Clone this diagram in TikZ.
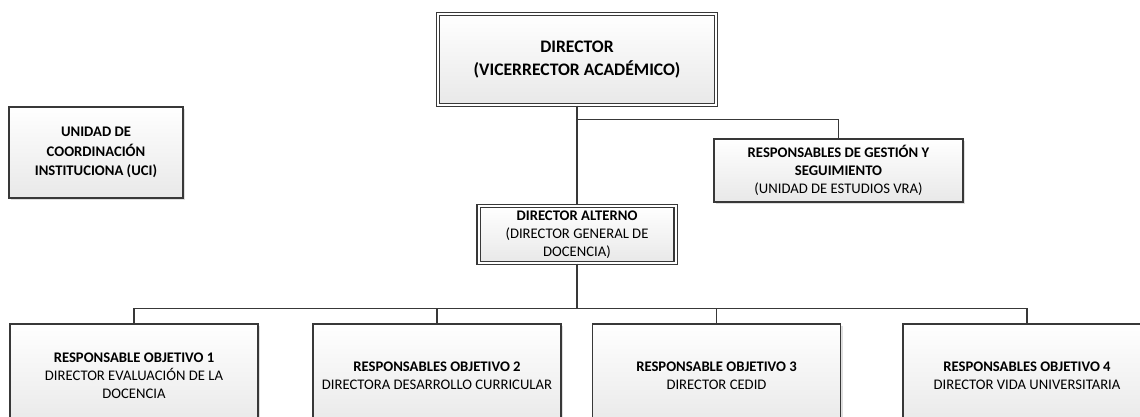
\documentclass[tikz,border=0pt]{standalone}
\usepackage{fontspec}
\setmainfont{Carlito}
\usetikzlibrary{shadows}
\begin{document}
\begin{tikzpicture}[x=0.75pt,y=-0.75pt,
  orgbox/.style={draw=black!78, line width=0.85pt, top color=white, bottom color=black!9,
    drop shadow={shadow xshift=1.5pt, shadow yshift=-1.5pt, opacity=0.25},
    align=center, inner sep=0pt, font=\fontsize{11}{13.5}\selectfont},
  dbox/.style={orgbox, double=white, double distance=1.5pt},
  link/.style={draw=black!78, line width=1pt}]
\useasboundingbox (0,0) rectangle (1140,417);

\node[dbox, minimum width=278*0.75pt, minimum height=91*0.75pt,
  font=\fontsize{13.2}{17.5}\selectfont\bfseries] (dir) at (577,59.5)
  {DIRECTOR\\(VICERRECTOR ACADÉMICO)};

\node[orgbox, minimum width=174*0.75pt, minimum height=91*0.75pt,
  font=\fontsize{11}{14.5}\selectfont\bfseries] (uci) at (96,152.5)
  {UNIDAD DE\\COORDINACIÓN\\INSTITUCIONA (UCI)};

\node[orgbox, minimum width=249*0.75pt, minimum height=63*0.75pt] (ges) at (838.5,170.5)
  {\textbf{RESPONSABLES DE GESTIÓN Y}\\\textbf{SEGUIMIENTO}\\(UNIDAD DE ESTUDIOS VRA)};

\node[dbox, minimum width=197*0.75pt, minimum height=57*0.75pt,
  font=\fontsize{11}{13.6}\selectfont] (alt) at (577,234.5)
  {\textbf{DIRECTOR ALTERNO}\\(DIRECTOR GENERAL DE\\DOCENCIA)};

\node[orgbox, minimum width=248*0.75pt, minimum height=104*0.75pt] (o1) at (134,376)
  {\textbf{RESPONSABLE OBJETIVO 1}\\DIRECTOR EVALUACIÓN DE LA\\DOCENCIA};
\node[orgbox, minimum width=248*0.75pt, minimum height=104*0.75pt] (o2) at (437,376)
  {\textbf{RESPONSABLES OBJETIVO 2}\\DIRECTORA DESARROLLO CURRICULAR};
\node[orgbox, minimum width=248*0.75pt, minimum height=104*0.75pt] (o3) at (716.5,376)
  {\textbf{RESPONSABLE OBJETIVO 3}\\DIRECTOR CEDID};
\node[orgbox, minimum width=248*0.75pt, minimum height=104*0.75pt] (o4) at (1027,376)
  {\textbf{RESPONSABLES OBJETIVO 4}\\DIRECTOR VIDA UNIVERSITARIA};

\draw[link] (dir.south) -- (alt.north);
\draw[link] (dir.south) ++(0,14) coordinate (jt) -| (ges.north);
\draw[link] (alt.south) -- ++(0,45) coordinate (jb);
\draw[link] (jb) -| (o1.north);
\draw[link] (jb) -| (o2.north);
\draw[link] (jb) -| (o3.north);
\draw[link] (jb) -| (o4.north);
\end{tikzpicture}
\end{document}
